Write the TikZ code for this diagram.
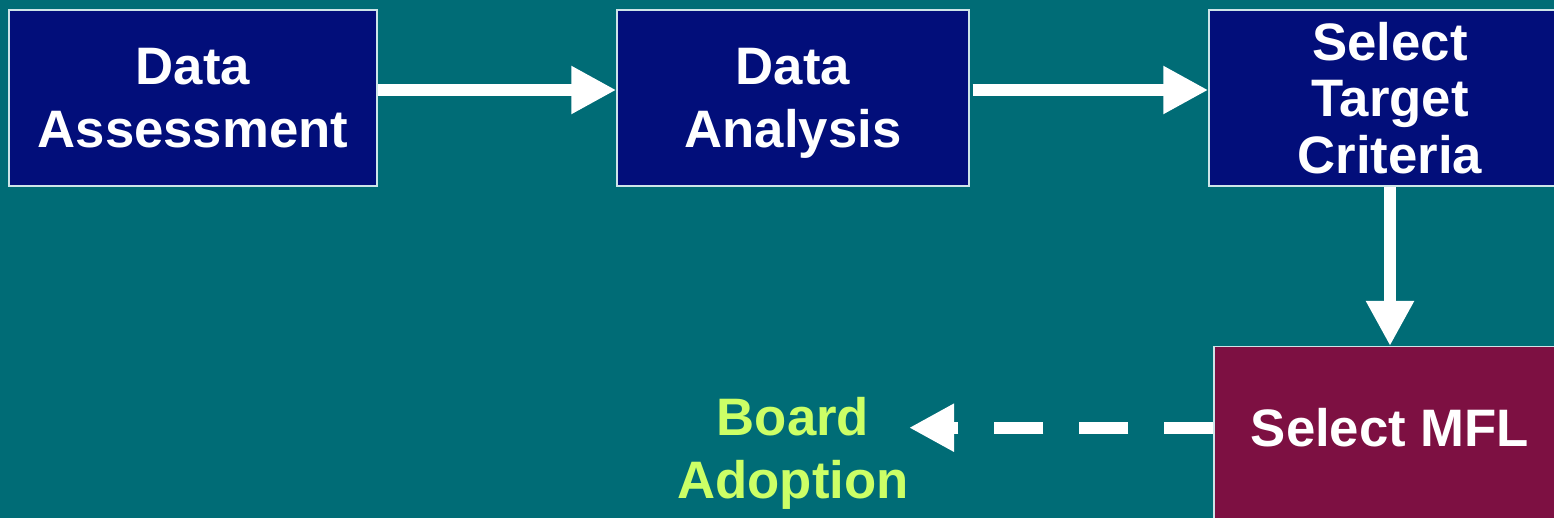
\documentclass[tikz,border=0pt]{standalone}
\usepackage{fontspec}
\setmainfont{Liberation Sans}
\usepackage{tikz}
\usetikzlibrary{arrows.meta}

\definecolor{slidebg}{RGB}{0,108,118}
\definecolor{boxblue}{RGB}{2,14,122}
\definecolor{boxred}{RGB}{125,16,66}
\definecolor{boxedge}{RGB}{205,228,232}
\definecolor{lime}{RGB}{204,255,102}

\begin{document}
\begin{tikzpicture}[
    stepbox/.style={draw=boxedge,line width=.8pt,fill=boxblue,text=white,align=center,
      inner sep=0pt,minimum height=3.52cm,font=\bfseries\fontsize{30}{36}\selectfont},
    flow/.style={white,line width=.24cm,-{Triangle[length=.9cm,width=.9cm]}},
  ]
    \fill[slidebg] (0,0) rectangle (31.08,10.36);
    \useasboundingbox (0,0) rectangle (31.08,10.36);

    \node[stepbox,minimum width=7.36cm] (assess) at (3.86,8.40) {Data\\Assessment};
    \node[stepbox,minimum width=7.04cm] (analysis) at (15.86,8.40) {Data\\\smash{Analysis}};
    \node[stepbox,minimum width=7.24cm,font=\bfseries\fontsize{30}{32}\selectfont] (criteria) at (27.80,8.40) {Select\\Target\\Criteria};
    \node[stepbox,fill=boxred,minimum width=7.04cm,minimum height=0pt,
      text height=2cm,text depth=1.62cm,anchor=north] (mfl) at (27.80,3.44) {Select MFL};
    \node[text=lime,align=center,inner sep=0pt,font=\bfseries\fontsize{30}{36}\selectfont] (board) at (15.86,1.30) {Board\\Adoption};

    % arrows sit a bit above the box middles
    \draw[flow] ([yshift=.16cm]assess.east) -- ([yshift=.16cm]analysis.west);
    \draw[flow] ([xshift=.06cm,yshift=.16cm]analysis.east) -- ([yshift=.16cm]criteria.west);
    \draw[flow] (criteria) -- (mfl);

    \coordinate (dashstart) at ([yshift=.38cm]mfl.base west);
    \draw[flow,dash pattern=on .98cm off .72cm] (dashstart) -- (dashstart -| board.east);
\end{tikzpicture}
\end{document}
